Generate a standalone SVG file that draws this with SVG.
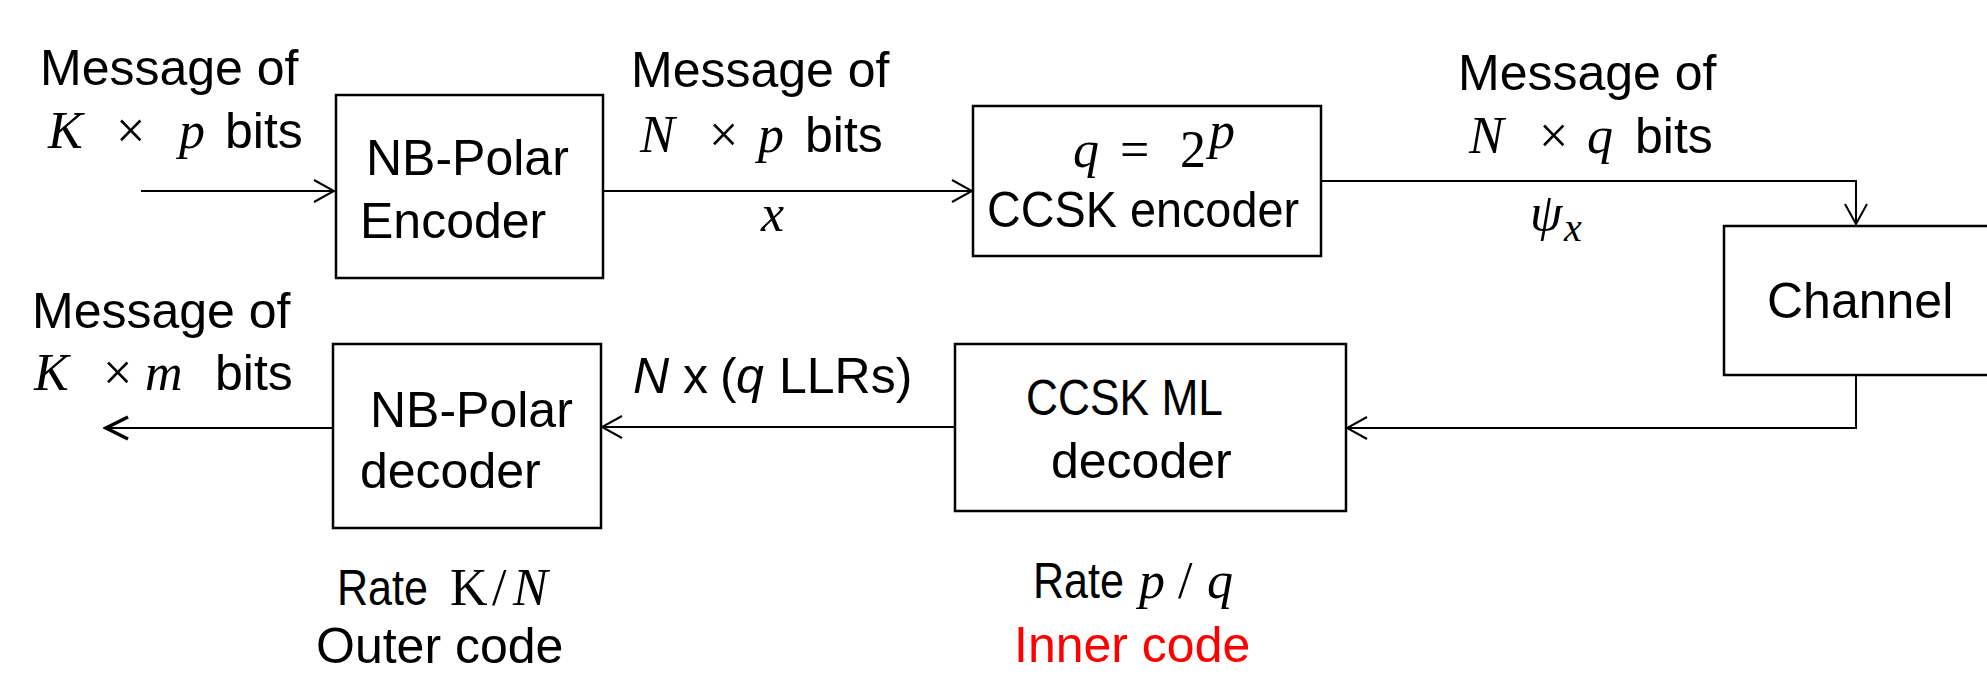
<svg xmlns="http://www.w3.org/2000/svg" width="1987" height="676" viewBox="0 0 1987 676">
<style>
.t{font-family:"Liberation Sans",Arial,sans-serif;font-size:50px;fill:#000}
.m{font-family:"Liberation Serif","Times New Roman",serif;font-style:italic;font-size:52px}
.r{font-family:"Liberation Serif","Times New Roman",serif;font-style:normal;font-size:52px}
.i{font-style:italic}
.box{fill:#fff;stroke:#000;stroke-width:2.5}
.ln{fill:none;stroke:#000;stroke-width:2}
.red{fill:#f00}
</style>
<defs>
<marker id="ah" markerUnits="userSpaceOnUse" viewBox="-24 -14 26 28" markerWidth="26" markerHeight="28" refX="0" refY="0" orient="auto"><path d="M-20,-11 L0,0 L-20,11" fill="none" stroke="#000" stroke-width="2"/></marker>
<marker id="ahb" markerUnits="userSpaceOnUse" viewBox="-26 -15 29 30" markerWidth="29" markerHeight="30" refX="0" refY="0" orient="auto"><path d="M-22,-11 L0,0 L-22,11" fill="none" stroke="#000" stroke-width="3.5"/></marker>
</defs>
<rect width="1987" height="676" fill="#fff"/>
<g id="connectors">
<path class="ln" d="M141,191 H334" marker-end="url(#ah)"/>
<path class="ln" d="M603,191 H972" marker-end="url(#ah)"/>
<path class="ln" d="M1321,181 H1856 V224" marker-end="url(#ah)"/>
<path class="ln" d="M1856,375 V428 H1347" marker-end="url(#ah)"/>
<path class="ln" d="M955,427 H602" marker-end="url(#ah)"/>
<path class="ln" d="M332,428 H106" stroke-width="3.5" marker-end="url(#ahb)"/>
</g>
<g id="labels">
<text class="t" x="40" y="85">Message of</text>
<text class="t" y="148"><tspan class="m" x="48">K</tspan><tspan class="r" x="116">×</tspan><tspan class="m" x="179">p</tspan><tspan x="225">bits</tspan></text>
<text class="t" x="631" y="87">Message of</text>
<text class="t" y="152"><tspan class="m" x="640">N</tspan><tspan class="r" x="709">×</tspan><tspan class="m" x="758">p</tspan><tspan x="805">bits</tspan></text>
<text class="m" x="761" y="231">x</text>
<text class="t" x="1458" y="90">Message of</text>
<text class="t" y="153"><tspan class="m" x="1469">N</tspan><tspan class="r" x="1539">×</tspan><tspan class="m" x="1587">q</tspan><tspan x="1635">bits</tspan></text>
<text class="m" y="230"><tspan x="1530">ψ</tspan><tspan x="1564" y="241" font-size="40">x</tspan></text>
<text class="t" x="32" y="328">Message of</text>
<text class="t" y="390"><tspan class="m" x="34">K</tspan><tspan class="r" x="103">×</tspan><tspan class="m" x="145">m</tspan><tspan x="215">bits</tspan></text>
<text class="t" y="393"><tspan class="i" x="633">N</tspan><tspan x="683">x</tspan><tspan x="720">(</tspan><tspan class="i" x="736">q</tspan><tspan x="779">LLRs)</tspan></text>
<text class="t" y="605"><tspan x="337" textLength="91" lengthAdjust="spacingAndGlyphs">Rate</tspan><tspan class="r" x="450">K</tspan><tspan class="r" x="492">/</tspan><tspan class="m" x="513">N</tspan></text>
<text class="t" x="316" y="663">Outer code</text>
<text class="t" x="1033" y="598" textLength="91" lengthAdjust="spacingAndGlyphs">Rate</text>
<text class="m" y="598"><tspan x="1139">p</tspan><tspan class="r" x="1178">/</tspan><tspan x="1207">q</tspan></text>
<text class="t red" x="1014" y="662">Inner code</text>
</g>
<g id="nb-polar-encoder">
<rect class="box" x="336" y="95" width="267" height="183"/>
<text class="t" x="366" y="175">NB-Polar</text>
<text class="t" x="360" y="238">Encoder</text>
</g>
<g id="ccsk-encoder">
<rect class="box" x="973" y="106" width="348" height="150"/>
<text class="m" x="1073" y="167">q</text>
<text class="r" x="1120" y="167">=</text>
<text class="r" x="1180" y="167">2</text>
<text class="m" x="1209" y="148" font-size="34">p</text>
<text class="t" x="987" y="227" textLength="312" lengthAdjust="spacingAndGlyphs">CCSK encoder</text>
</g>
<g id="channel">
<rect class="box" x="1724" y="226" width="300" height="149"/>
<text class="t" x="1767" y="318">Channel</text>
</g>
<g id="ccsk-ml-decoder">
<rect class="box" x="955" y="344" width="391" height="167"/>
<text class="t" x="1026" y="415" textLength="197" lengthAdjust="spacingAndGlyphs">CCSK ML</text>
<text class="t" x="1051" y="478">decoder</text>
</g>
<g id="nb-polar-decoder">
<rect class="box" x="333" y="344" width="268" height="184"/>
<text class="t" x="370" y="427">NB-Polar</text>
<text class="t" x="360" y="488">decoder</text>
</g>
</svg>
